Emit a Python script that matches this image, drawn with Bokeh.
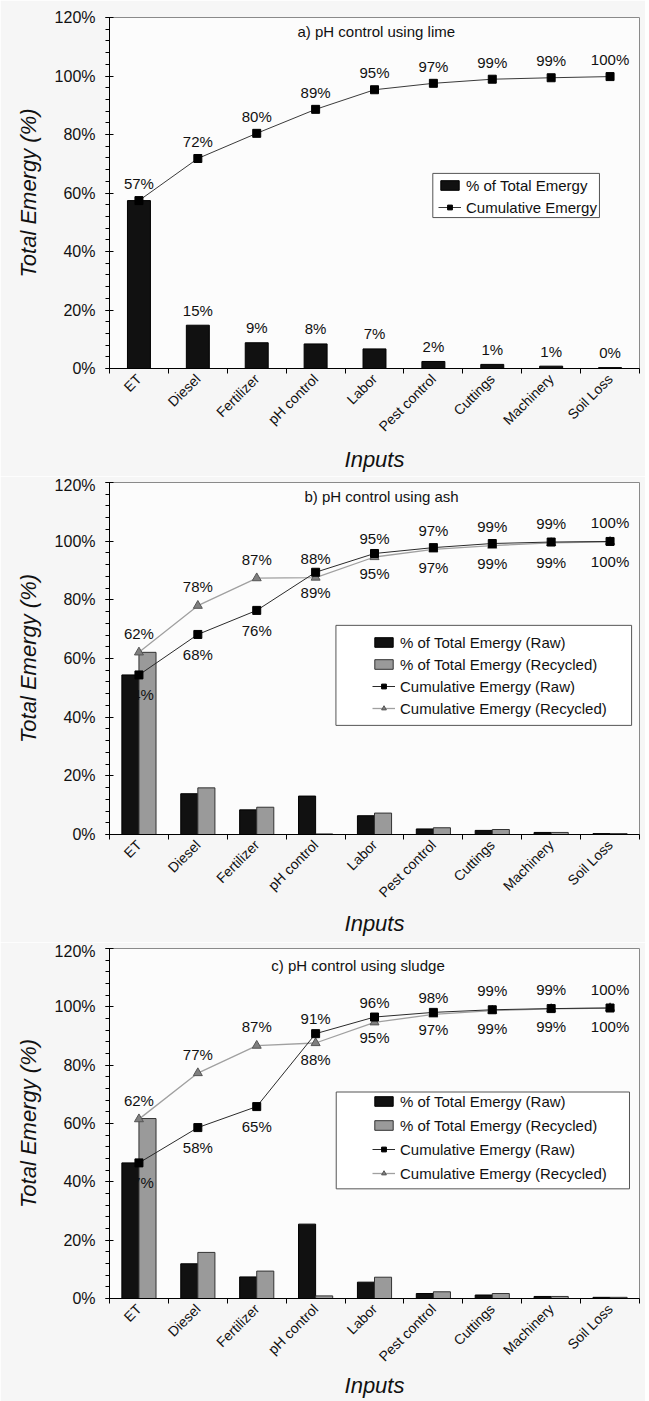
import math
from bokeh.plotting import figure
from bokeh.models import (Range1d, FixedTicker, SingleIntervalTicker, PrintfTickFormatter,
                          Label, Legend, LegendItem, BoxAnnotation)
from bokeh.layouts import column
from bokeh.embed import file_html
from bokeh.resources import INLINE

FONT = "Liberation Sans"

categories = ["ET", "Diesel", "Fertilizer", "pH control", "Labor",
              "Pest control", "Cuttings", "Machinery", "Soil Loss"]

# a) pH control using lime
a_share = [57.4, 14.8, 8.8, 8.4, 6.7, 2.4, 1.4, 0.8, 0.3]
a_share_labels = ["57%", "15%", "9%", "8%", "7%", "2%", "1%", "1%", "0%"]
a_cum = [57.4, 71.8, 80.4, 88.6, 95.3, 97.5, 98.9, 99.4, 99.8]
a_cum_labels = ["57%", "72%", "80%", "89%", "95%", "97%", "99%", "99%", "100%"]

# b) pH control using ash
b_raw = [54.4, 13.9, 8.4, 13.1, 6.4, 1.9, 1.4, 0.7, 0.3]
b_rec = [62.1, 15.9, 9.3, 0.2, 7.3, 2.3, 1.7, 0.7, 0.3]
b_cum_raw = [54.4, 68.2, 76.4, 89.4, 95.8, 97.8, 99.2, 99.7, 99.9]
b_cum_rec = [62.1, 78.0, 87.4, 87.6, 94.6, 97.2, 98.5, 99.4, 99.8]
b_cum_raw_labels = ["54%", "68%", "76%", "89%", "95%", "97%", "99%", "99%", "100%"]
b_cum_rec_labels = ["62%", "78%", "87%", "88%", "95%", "97%", "99%", "99%", "100%"]

# c) pH control using sludge
c_raw = [46.5, 11.9, 7.4, 25.5, 5.6, 1.7, 1.2, 0.7, 0.4]
c_rec = [61.7, 15.8, 9.4, 0.9, 7.3, 2.3, 1.7, 0.7, 0.4]
c_cum_raw = [46.5, 58.6, 65.8, 90.8, 96.5, 98.1, 99.0, 99.4, 99.6]
c_cum_rec = [61.5, 77.3, 86.7, 87.6, 94.7, 97.4, 98.7, 99.3, 99.6]
c_cum_raw_labels = ["47%", "58%", "65%", "91%", "96%", "98%", "99%", "99%", "100%"]
c_cum_rec_labels = ["62%", "77%", "87%", "88%", "95%", "97%", "99%", "99%", "100%"]

centers = [i + 0.5 for i in range(len(categories))]
bounds = list(range(len(categories) + 1))

RAW_BAR = "#111111"
REC_BAR = "#9a9a9a"
RAW_LINE = "#2a2a2a"
REC_LINE = "#a0a0a0"
TRI_FILL = "#7f7f7f"
W = 645


def base_figure(height, tb, bb, lb, rb, xstand):
    p = figure(width=W, height=height, output_backend="svg", toolbar_location=None,
               x_range=Range1d(0, len(categories)), y_range=Range1d(0, 120),
               min_border_top=tb, min_border_bottom=bb, min_border_left=lb, min_border_right=rb)
    p.background_fill_color = "#fcfcfc"
    p.border_fill_color = "#f6f6f6"
    p.outline_line_color = "#8a8a8a"
    p.xgrid.visible = False
    p.ygrid.visible = False

    xa = p.xaxis[0]
    xa.ticker = FixedTicker(ticks=centers, minor_ticks=bounds)
    xa.major_label_overrides = {c: n for c, n in zip(centers, categories)}
    xa.major_label_orientation = math.pi / 4
    xa.major_tick_in = 0
    xa.major_tick_out = 0
    xa.minor_tick_in = 0
    xa.minor_tick_out = 5
    xa.minor_tick_line_color = "black"
    xa.axis_line_color = "black"
    xa.major_label_text_font = FONT
    xa.major_label_text_font_size = "14px"
    xa.major_label_text_color = "#111111"
    xa.major_label_standoff = 3
    xa.axis_label = "Inputs"
    xa.axis_label_text_font = FONT
    xa.axis_label_text_font_size = "22px"
    xa.axis_label_text_font_style = "italic"
    xa.axis_label_text_color = "#111111"
    xa.axis_label_standoff = xstand

    ya = p.yaxis[0]
    ya.ticker = SingleIntervalTicker(interval=20, num_minor_ticks=5)
    ya.formatter = PrintfTickFormatter(format="%d%%")
    ya.major_tick_in = 4
    ya.major_tick_out = 4
    ya.minor_tick_in = 0
    ya.minor_tick_out = 4
    ya.major_tick_line_color = "black"
    ya.minor_tick_line_color = "black"
    ya.axis_line_color = "black"
    ya.major_label_text_font = FONT
    ya.major_label_text_font_size = "16px"
    ya.major_label_text_color = "#111111"
    ya.major_label_standoff = 10
    ya.axis_label = "Total Emergy (%)"
    ya.axis_label_text_font = FONT
    ya.axis_label_text_font_size = "22px"
    ya.axis_label_text_font_style = "italic"
    ya.axis_label_text_color = "#111111"
    ya.axis_label_standoff = 11
    return p


def add_title(p, text, x, y):
    p.add_layout(Label(x=x, y=y, text=text, text_align="center", text_baseline="middle",
                       text_font=FONT, text_font_size="15px", text_color="#111111"))


def add_labels(p, xs, ys, texts, offsets):
    for x, y, t, o in zip(xs, ys, texts, offsets):
        p.add_layout(Label(x=x, y=y, text=t, y_offset=o, text_align="center",
                           text_baseline="middle", text_font=FONT, text_font_size="15px",
                           text_color="#111111"))


def add_legend_box(p, left, right, bottom, top):
    p.add_layout(BoxAnnotation(left=left, right=right, bottom=bottom, top=top,
                               fill_color="white", fill_alpha=1.0,
                               line_color="#555555", line_alpha=1.0, line_width=1))


def make_legend(items, loc, spacing):
    return Legend(items=items, location=loc, border_line_alpha=0, background_fill_alpha=0,
                  padding=0, margin=0, spacing=spacing, label_height=20, glyph_height=12,
                  glyph_width=23, label_standoff=5, label_text_font=FONT,
                  label_text_font_size="15px", label_text_color="#111111")


# ---------- panel a ----------
pa = base_figure(476, 17, 108, 106, W - 639, 4)
ra_bar = pa.vbar(x=centers, top=a_share, width=0.39, fill_color=RAW_BAR, line_color="black")
ra_line = pa.line(centers, a_cum, line_color="#3a3a3a", line_width=1)
ra_pts = pa.scatter(centers, a_cum, marker="square", size=8, fill_color="black", line_color="black")
add_title(pa, "a) pH control using lime", 4.53, 115.2)
add_labels(pa, centers[1:], a_share[1:], a_share_labels[1:], [15] * 8)
add_labels(pa, centers, a_cum, a_cum_labels, [17] * 9)
add_legend_box(pa, 5.49, 8.32, 51.6, 66.7)
pa.add_layout(make_legend([
    LegendItem(label="% of Total Emergy", renderers=[ra_bar]),
    LegendItem(label="Cumulative Emergy", renderers=[ra_line, ra_pts]),
], (329, 151), 2))


def dual_panel(height, tb, bb, lb, rb, xstand, raw, rec, cum_raw, cum_rec, raw_lbl, rec_lbl,
               raw_off, rec_off, title, tx, ty, box, loc, spacing):
    p = base_figure(height, tb, bb, lb, rb, xstand)
    rb1 = p.vbar(x=[c - 0.145 for c in centers], top=raw, width=0.29,
                 fill_color=RAW_BAR, line_color="black")
    rb2 = p.vbar(x=[c + 0.145 for c in centers], top=rec, width=0.29,
                 fill_color=REC_BAR, line_color="#333333")
    rl2 = p.line(centers, cum_rec, line_color=REC_LINE, line_width=1.3)
    rl1 = p.line(centers, cum_raw, line_color=RAW_LINE, line_width=1)
    rp2 = p.scatter(centers, cum_rec, marker="triangle", size=9, fill_color=TRI_FILL,
                    line_color="#555555")
    rp1 = p.scatter(centers, cum_raw, marker="square", size=8, fill_color="black",
                    line_color="black")
    add_title(p, title, tx, ty)
    add_labels(p, centers, cum_rec, rec_lbl, rec_off)
    add_labels(p, centers, cum_raw, raw_lbl, raw_off)
    add_legend_box(p, *box)
    p.add_layout(make_legend([
        LegendItem(label="% of Total Emergy (Raw)", renderers=[rb1]),
        LegendItem(label="% of Total Emergy (Recycled)", renderers=[rb2]),
        LegendItem(label="Cumulative Emergy (Raw)", renderers=[rl1, rp1]),
        LegendItem(label="Cumulative Emergy (Recycled)", renderers=[rl2, rp2]),
    ], loc, spacing))
    return p


pb = dual_panel(466, 6, 108, 104, W - 643, 2, b_raw, b_rec, b_cum_raw, b_cum_rec,
                b_cum_raw_labels, b_cum_rec_labels,
                [-20] * 9, [19] * 9,
                "b) pH control using ash", 4.62, 115.2,
                (3.845, 8.866, 37.2, 71.3), (263, 116), 2)

pc = dual_panel(459, 6, 101, 109, 1, 0, c_raw, c_rec, c_cum_raw, c_cum_rec,
                c_cum_raw_labels, c_cum_rec_labels,
                [-20, -20, -20, 15, 15, 15, 19, 19, 19],
                [19, 19, 19, -16, -15, -15, -18, -18, -18],
                "c) pH control using sludge", 4.22, 114.2,
                (3.85, 8.83, 37.6, 70.8), (263, 115), 4)

layout = column(pa, pb, pc, spacing=0)
open("out.html", "w").write(file_html(layout, INLINE))
